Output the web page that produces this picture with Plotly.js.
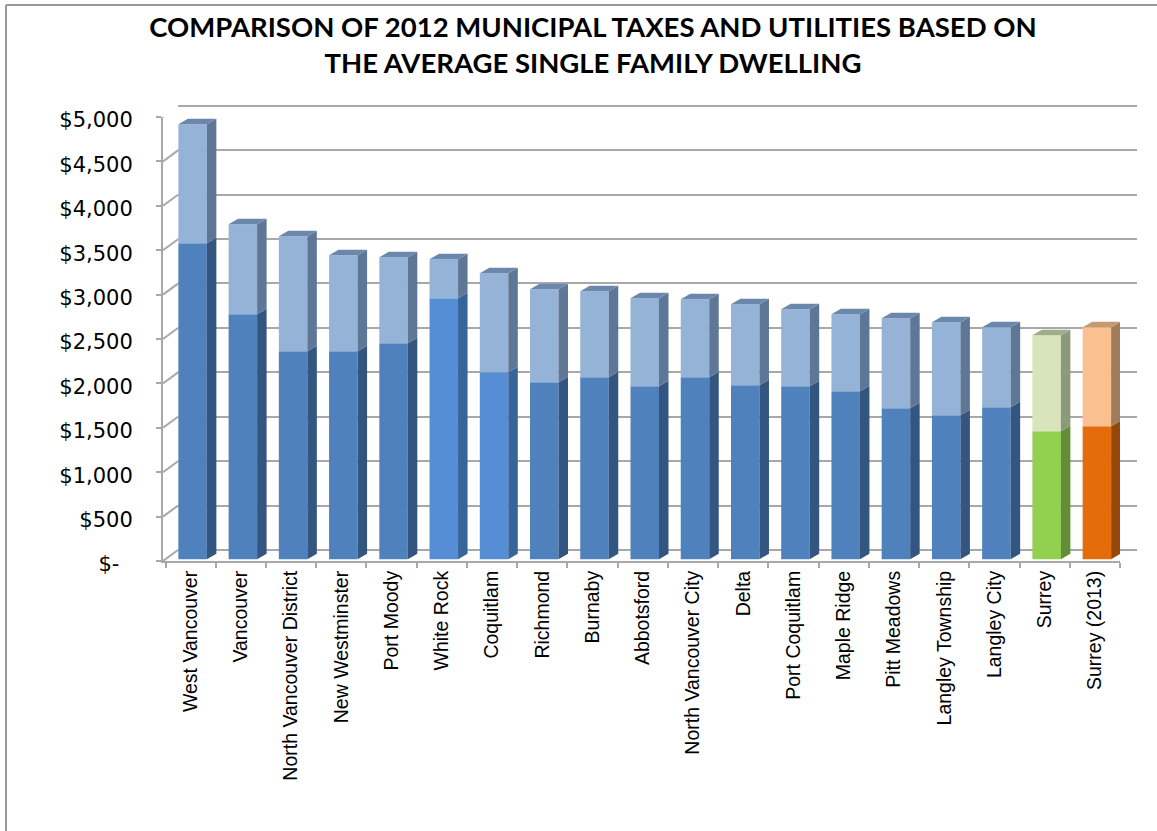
<!DOCTYPE html>
<html>
<head>
<meta charset="utf-8">
<script src="https://cdn.plot.ly/plotly-3.0.1.min.js"></script>
<style>html,body{margin:0;padding:0;background:#fff}#chart{width:1157px;height:831px}</style>
</head>
<body>
<div id="chart"></div>
<script>
// Average single family dwelling, 2012: municipal taxes and utilities (dollars)
const municipalities = ["West Vancouver","Vancouver","North Vancouver District","New Westminster","Port Moody","White Rock","Coquitlam","Richmond","Burnaby","Abbotsford","North Vancouver City","Delta","Port Coquitlam","Maple Ridge","Pitt Meadows","Langley Township","Langley City","Surrey","Surrey (2013)"];
const lowerValues = [3559,2759,2342,2342,2432,2939,2106,1993,2050,1948,2050,1959,1948,1892,1700,1622,1712,1441,1498];
const totalValues = [4899,3772,3637,3423,3400,3378,3221,3040,3018,2939,2928,2872,2815,2759,2714,2669,2613,2523,2613];
const dollarTicks = [0,500,1000,1500,2000,2500,3000,3500,4000,4500,5000];
const dollarLabels = ["$-\u00a0\u00a0","$500","$1,000","$1,500","$2,000","$2,500","$3,000","$3,500","$4,000","$4,500","$5,000"];

// Colour families: [front lower, front upper, side lower, side upper, top]
const blue   = ["#4f81bd","#95b3d7","#325680","#5f7797","#6b87ab"];
const bright = ["#558ed5","#95b3d7","#37649b","#5f7797","#6b87ab"];
const green  = ["#92d050","#d7e4bc","#628f35","#8b9a7b","#a0ad8a"];
const orange = ["#e46c0a","#fac090","#95480a","#a17c5a","#c69a70"];
const family = municipalities.map((m, i) =>
  i === 17 ? green : i === 18 ? orange : (i === 5 || i === 6) ? bright : blue);

// Pixel frame of the page and of the two planes of the pseudo-3D chart
const W = 1157, H = 831;
const plot = {l:158, r:1140, t:90, b:570};
const front = {l:163, r:1120, t:117, b:561};
const wall  = {l:178, r:1137, t:105.7, b:550};
const px = x => (x - plot.l) / (plot.r - plot.l);
const py = y => (plot.b - y) / (plot.b - plot.t);

const slotPx = (1120 - 165.5) / municipalities.length;
const dollarPx = (front.b - front.t) / 5000;
const xStart = 0.5 - (165.5 - front.l) / slotPx;

const toX = p => p / slotPx;
const toY = p => p / dollarPx;

const barWidth = toX(28.5);
const barShift = toX(2);
const barLift = toY(1.8);
const faceDx = toX(9.5), faceDy = toY(5.5);
const wallDx = toX(wall.l - front.l), wallDy = toY(front.b - wall.b);
// The wall axis runs a little past both end ticks so those gridlines are kept
const wallPad = 100;

const xs = municipalities.map((m, i) => i + 1);
const upperValues = totalValues.map((t, i) => t - lowerValues[i]);

const traces = [];
// Back wall plane, carries the horizontal gridlines behind the columns
traces.push({type:"scatter", x:[], y:[], xaxis:"x", yaxis:"y", hoverinfo:"skip", showlegend:false});

// Column front faces
traces.push({type:"bar", name:"Lower", x:xs.map(v => v + barShift), y:lowerValues, base:lowerValues.map(() => barLift),
  width:barWidth, xaxis:"x2", yaxis:"y2", cliponaxis:false,
  marker:{color:family.map(f => f[0]), line:{width:0}}, showlegend:false});
traces.push({type:"bar", name:"Upper", x:xs.map(v => v + barShift), y:upperValues, base:lowerValues.map(v => v + barLift),
  width:barWidth, xaxis:"x2", yaxis:"y2", cliponaxis:false,
  marker:{color:family.map(f => f[1]), line:{width:0}}, showlegend:false});

// Side and top faces, derived from the same values as the fronts
const face = (xv, yv, color) => ({type:"scatter", mode:"none", fill:"toself", fillcolor:color, x:xv, y:yv,
  xaxis:"x2", yaxis:"y2", cliponaxis:false, hoverinfo:"skip", showlegend:false});
xs.forEach((xc, i) => {
  const left = xc + barShift - barWidth / 2, right = xc + barShift + barWidth / 2;
  const y0 = barLift, y1 = lowerValues[i] + barLift, y2 = totalValues[i] + barLift;
  traces.push(face([right, right + faceDx, right + faceDx, right], [y0, y0 + faceDy, y1 + faceDy, y1], family[i][2]));
  traces.push(face([right, right + faceDx, right + faceDx, right], [y1, y1 + faceDy, y2 + faceDy, y2], family[i][3]));
  traces.push(face([left, left + faceDx, right + faceDx, right], [y2, y2 + faceDy, y2 + faceDy, y2], family[i][4]));
});

// Left wall and floor edges joining the front axes to the back wall
const edgeX = [], edgeY = [];
dollarTicks.forEach(v => { edgeX.push(xStart, xStart + wallDx, null); edgeY.push(v, v + wallDy, null); });
edgeX.push(municipalities.length + 0.5, municipalities.length + 0.5 + toX(wall.r - 1120));
edgeY.push(0, wallDy);
traces.push({type:"scatter", mode:"lines", x:edgeX, y:edgeY, xaxis:"x2", yaxis:"y2", cliponaxis:false,
  line:{color:"#a8a8a8", width:2}, hoverinfo:"skip", showlegend:false});

const layout = {
  width:W, height:H, autosize:false, showlegend:false, barmode:"overlay",
  paper_bgcolor:"#fff", plot_bgcolor:"rgba(0,0,0,0)",
  margin:{l:plot.l, r:W - plot.r, t:plot.t, b:H - plot.b, pad:0},
  title:{text:"COMPARISON OF 2012 MUNICIPAL TAXES AND UTILITIES BASED ON<br>THE AVERAGE SINGLE FAMILY DWELLING",
    font:{family:"Lato, sans-serif", size:27.5, color:"#000", weight:700},
    x:px(593), xanchor:"center", xref:"paper", y:1-37/H, yanchor:"top"},
  // Back wall axes
  xaxis:{domain:[px(wall.l), px(wall.r)], range:[0,1], showticklabels:false, ticks:"", showgrid:false, zeroline:false, showline:false, anchor:"y"},
  yaxis:{domain:[py(wall.b + wallPad * dollarPx), py(wall.t - wallPad * dollarPx)], range:[-wallPad, 5000 + wallPad],
    tickmode:"array", tickvals:dollarTicks, showticklabels:false, ticks:"",
    showgrid:true, gridcolor:"#a8a8a8", gridwidth:2, zeroline:false, showline:false, anchor:"x"},
  // Front axes with the tick labels
  xaxis2:{domain:[px(front.l), px(front.r)], range:[xStart, municipalities.length + 0.5], anchor:"y2",
    tickmode:"array", tickvals:xs, ticktext:municipalities, tickangle:-90, ticks:"", showgrid:false, zeroline:false,
    tickfont:{family:"Liberation Sans, Arial, sans-serif", size:19.5, color:"#000"},
    showline:true, linecolor:"#a8a8a8", linewidth:2,
    minor:{tickmode:"array", tickvals:municipalities.map((m, i) => i + 0.5).concat([municipalities.length + 0.5]), ticks:"outside", ticklen:5, tickcolor:"#a8a8a8", tickwidth:2, showgrid:false}},
  yaxis2:{domain:[py(front.b), py(front.t)], range:[0,5000], anchor:"x2",
    tickmode:"array", tickvals:dollarTicks, ticktext:dollarLabels, ticks:"outside", ticklen:5, tickcolor:"#a8a8a8", tickwidth:2,
    ticklabelstandoff:19, ticklabelshift:3,
    tickfont:{family:"DejaVu Sans, sans-serif", size:21, color:"#000"},
    showgrid:false, zeroline:false, showline:true, linecolor:"#a8a8a8", linewidth:2},
  // Chart area outline along the top and left of the page
  shapes:[
    {type:"line", xref:"paper", yref:"paper", x0:px(6), x1:px(6), y0:py(5), y1:py(H), line:{color:"#999", width:2}},
    {type:"line", xref:"paper", yref:"paper", x0:px(6), x1:px(W), y0:py(5), y1:py(5), line:{color:"#999", width:2}}
  ]
};
Plotly.newPlot("chart", traces, layout, {displayModeBar:false, staticPlot:true});
</script>
</body>
</html>
